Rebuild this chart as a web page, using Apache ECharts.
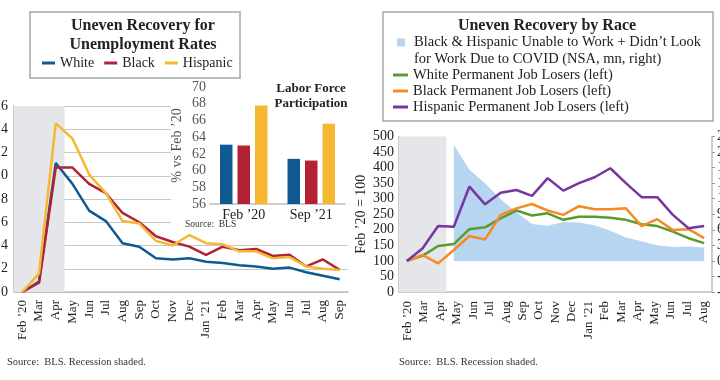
<!DOCTYPE html>
<html>
<head>
<meta charset="utf-8">
<script src="https://cdn.jsdelivr.net/npm/echarts@6/dist/echarts.min.js"></script>
<style>html,body{margin:0;padding:0;background:#fff;}#c{width:720px;height:380px;}</style>
</head>
<body>
<div id="c"></div>
<script>
// ---- data ----
const months = ["Feb \u201920","Mar","Apr","May","Jun","Jul","Aug","Sep","Oct","Nov","Dec","Jan \u201921","Feb","Mar","Apr","May","Jun","Jul","Aug","Sep"];
const raceTickLabels = ["Feb \u201920","Mar","Apr","May","Jun","Jul","Aug","Sep","Oct","Nov","Dec","Jan \u201921","Feb","Mar","Apr","May","Jun","Jul","Aug"];
const unempWhite = [0, 0.9, 11.1, 9.3, 7.0, 6.1, 4.2, 3.9, 2.9, 2.8, 2.9, 2.6, 2.5, 2.3, 2.2, 2.0, 2.1, 1.7, 1.4, 1.1];
const unempBlack = [0, 0.8, 10.7, 10.7, 9.3, 8.5, 6.8, 6.0, 4.8, 4.3, 3.9, 3.2, 3.9, 3.6, 3.7, 3.1, 3.2, 2.2, 2.8, 1.9];
const unempHispanic = [0, 1.6, 14.5, 13.2, 10.1, 8.5, 6.1, 5.9, 4.4, 4.0, 4.9, 4.2, 4.1, 3.5, 3.5, 2.9, 3.0, 2.2, 2.0, 1.9];
const recessionLeft = [16, 16, 16];
const lfpCats = ["Feb \u201920", "Sep \u201921"];
const lfpWhite = [63.1, 61.4];
const lfpBlack = [63.0, 61.2];
const lfpHispanic = [67.8, 65.6];
const recessionRight = [500, 500, 500];
const covidUnable = ['-', '-', '-', 22.4, 17.6, 15.0, 11.9, 9.4, 7.1, 6.8, 7.5, 7.4, 6.9, 5.8, 4.5, 3.8, 3.0, 2.7, 2.8, 2.6];
const permWhite = [100, 116, 148, 154, 202, 208, 237, 262, 246, 253, 232, 242, 242, 239, 232, 218, 212, 194, 173, 157];
const permBlack = [100, 119, 92, 135, 180, 169, 248, 269, 283, 262, 248, 276, 266, 266, 269, 212, 234, 199, 202, 173];
const permHispanic = [100, 140, 212, 210, 339, 282, 319, 328, 309, 366, 326, 350, 369, 398, 350, 305, 305, 248, 205, 212];

const F = "'Liberation Serif', 'DejaVu Serif', serif";
const C = {white:'#0f5a93', black:'#b22234', hisp:'#f6b733', green:'#5a9a31', orange:'#f58b22', purple:'#7636a0', area:'#b7d4f0', rec:'#e4e6e9', axis:'#bdbdbd', grid:'#c8c8c8', text:'#222'};
const areaName = 'Black & Hispanic Unable to Work + Didn\u2019t Look\nfor Work Due to COVID (NSA, mn, right)';
const nW = 'White Permanent Job Losers (left)', nB = 'Black Permanent Job Losers (left)', nH = 'Hispanic Permanent Job Losers (left)';

const chart = echarts.init(document.getElementById('c'));
const lineS = (name, data, color, xi, yi) => ({name, type:'line', data, xAxisIndex:xi, yAxisIndex:yi, symbol:'none', lineStyle:{color, width:2.5}, itemStyle:{color}, z:3});
const barS = (name, data, color) => ({name, type:'bar', data, xAxisIndex:1, yAxisIndex:1, barWidth:12.5, barGap:'40%', itemStyle:{color}, z:4});
const recS = (name, data, xi, yi, w) => ({name, type:'bar', data, xAxisIndex:xi, yAxisIndex:yi, barWidth:w, silent:true, z:1,
  itemStyle:{color:C.rec}});

chart.setOption({
  animation:false,
  textStyle:{fontFamily:F},
  title:[
    {text:'Uneven Recovery for\nUnemployment Rates', left:143, top:16, textAlign:'center', padding:0, textStyle:{fontFamily:F, fontWeight:'bold', fontSize:16, lineHeight:19, color:C.text}},
    {text:'Uneven Recovery by Race', left:547, top:16, textAlign:'center', padding:0, textStyle:{fontFamily:F, fontWeight:'bold', fontSize:16, lineHeight:19, color:C.text}},
    {text:'Labor Force\nParticipation', left:311, top:81, textAlign:'center', padding:0, textStyle:{fontFamily:F, fontWeight:'bold', fontSize:13, lineHeight:15, color:C.text}},
    {text:'Source:  BLS', left:185, top:219, padding:0, textStyle:{fontFamily:F, fontWeight:'normal', fontSize:9.5, color:'#333'}},
    {text:'Source:  BLS. Recession shaded.', left:7, top:357, padding:0, textStyle:{fontFamily:F, fontWeight:'normal', fontSize:10.5, color:'#333'}},
    {text:'Source:  BLS. Recession shaded.', left:399, top:357, padding:0, textStyle:{fontFamily:F, fontWeight:'normal', fontSize:10.5, color:'#333'}}
  ],
  legend:[
    {data:['White','Black','Hispanic'], left:42, top:55, padding:0, itemWidth:13, itemHeight:3, icon:'rect', itemGap:10, selectedMode:false,
     textStyle:{fontFamily:F, fontSize:14, color:C.text, lineHeight:16}},
    {data:[areaName], left:397, top:34, padding:0, itemWidth:12, itemHeight:24, selectedMode:false,
     icon:'path://M0,0h8v8h-8z M11.99,23.99h0.01v0.01h-0.01z',
     textStyle:{fontFamily:F, fontSize:14.5, color:C.text, lineHeight:16.5}},
    {data:[nW, nB, nH], left:393, top:67, padding:0, orient:'vertical', itemGap:0, itemWidth:15, itemHeight:3, icon:'rect', selectedMode:false,
     textStyle:{fontFamily:F, fontSize:14.5, color:C.text, lineHeight:16}}
  ],
  graphic:{elements:[
    {type:'rect', shape:{x:30, y:12, width:210, height:66}, style:{fill:'none', stroke:'#a6a6a6', lineWidth:1.5}, z:1},
    {type:'rect', shape:{x:383, y:12, width:330, height:109}, style:{fill:'none', stroke:'#a6a6a6', lineWidth:1.5}, z:1},
    {type:'rect', shape:{x:171, y:80, width:180, height:152}, style:{fill:'#fff'}, z:1}
  ]},
  grid:[
    {left:14, top:106, width:334, height:186, outerBoundsMode:'none', containLabel:false},
    {left:210, top:87, width:135, height:117, outerBoundsMode:'none', containLabel:false},
    {left:399, top:136.5, width:313, height:155.5, outerBoundsMode:'none', containLabel:false}
  ],
  xAxis:[
    {gridIndex:0, type:'category', data:months, boundaryGap:true,
     axisLine:{lineStyle:{color:C.axis, width:1.5}}, axisTick:{show:false},
     axisLabel:{rotate:90, interval:0, fontSize:13, color:C.text, margin:8, fontFamily:F}},
    {gridIndex:1, type:'category', data:lfpCats, z:3,
     axisLine:{lineStyle:{color:C.axis, width:1.5}}, axisTick:{show:false},
     axisLabel:{fontSize:14, color:C.text, margin:4, fontFamily:F}},
    {gridIndex:2, type:'category', data:raceTickLabels, boundaryGap:true,
     axisLine:{lineStyle:{color:C.axis, width:1.5}}, axisTick:{show:false},
     axisLabel:{rotate:90, interval:0, fontSize:13, color:C.text, margin:9, fontFamily:F}},
    {gridIndex:2, type:'category', data:months, boundaryGap:true, show:false}
  ],
  yAxis:[
    {gridIndex:0, type:'value', min:0, max:16, interval:2,
     axisLine:{show:true, lineStyle:{color:C.axis, width:1.5}}, axisTick:{show:false},
     splitLine:{lineStyle:{color:C.grid, width:1}},
     axisLabel:{fontSize:14, color:C.text, margin:6, fontFamily:F}},
    {gridIndex:1, type:'value', min:56, max:70, interval:2, z:3,
     axisLine:{show:false}, axisTick:{show:false}, splitLine:{show:false},
     axisLabel:{fontSize:14, color:'#555', margin:4, fontFamily:F},
     name:'% vs Feb \u201920', nameLocation:'middle', nameGap:26, nameTextStyle:{fontSize:14, color:'#555', fontFamily:F}},
    {gridIndex:2, type:'value', min:0, max:500, interval:50,
     axisLine:{show:true, lineStyle:{color:C.axis, width:1.5}}, axisTick:{show:false}, splitLine:{show:false},
     axisLabel:{fontSize:14, color:C.text, margin:5, fontFamily:F},
     name:'Feb \u201920 = 100', nameLocation:'middle', nameGap:31, nameTextStyle:{fontSize:14, color:C.text, fontFamily:F}},
    {gridIndex:2, type:'value', position:'right', min:-6, max:24, interval:3,
     axisLine:{show:true, lineStyle:{color:C.axis, width:1.5}}, axisTick:{show:true, inside:false, length:3, lineStyle:{color:'#999'}},
     splitLine:{show:false},
     axisLabel:{fontSize:14, color:C.text, margin:5, fontFamily:F}}
  ],
  series:[
    recS('recessionL', recessionLeft, 0, 0, 17.6),
    lineS('White', unempWhite, C.white, 0, 0),
    lineS('Black', unempBlack, C.black, 0, 0),
    lineS('Hispanic', unempHispanic, C.hisp, 0, 0),
    barS('White', lfpWhite, C.white),
    barS('Black', lfpBlack, C.black),
    barS('Hispanic', lfpHispanic, C.hisp),
    recS('recessionR', recessionRight, 3, 2, 16.5),
    {name:areaName, type:'line', data:covidUnable, xAxisIndex:3, yAxisIndex:3, symbol:'none',
     lineStyle:{width:0, color:C.area}, itemStyle:{color:C.area}, areaStyle:{color:C.area, opacity:1}, z:2},
    lineS(nW, permWhite, C.green, 3, 2),
    lineS(nB, permBlack, C.orange, 3, 2),
    lineS(nH, permHispanic, C.purple, 3, 2)
  ]
});
</script>
</body>
</html>
